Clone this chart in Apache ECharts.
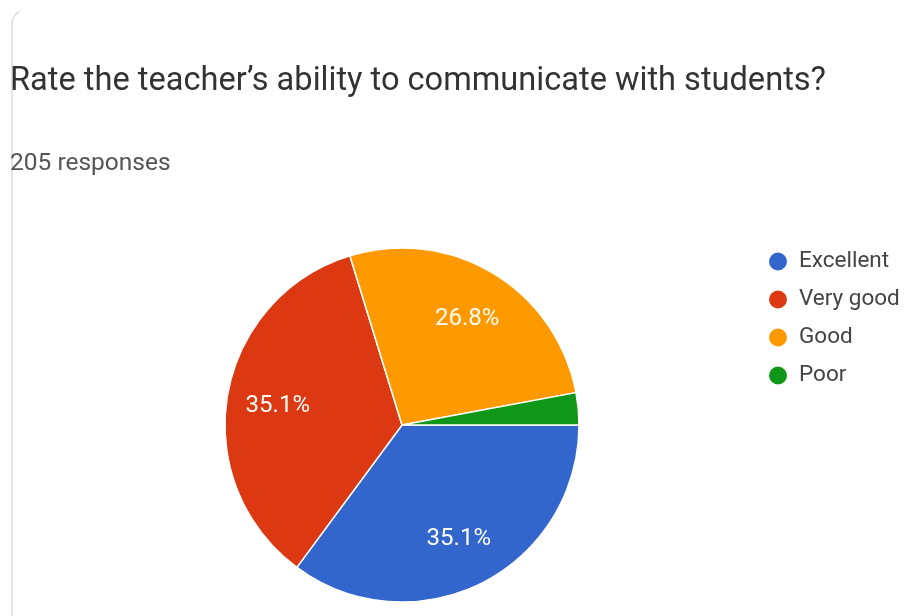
<!DOCTYPE html>
<html>
<head>
<meta charset="utf-8">
<script src="https://cdn.jsdelivr.net/npm/echarts@6/dist/echarts.min.js"></script>
<style>
  html, body { margin: 0; padding: 0; background: #fff; }
  #chart { width: 914px; height: 616px; }
</style>
</head>
<body>
<div id="chart"></div>
<script>
// Survey answers (205 responses)
const categories = ['Excellent', 'Very good', 'Good', 'Poor'];
const counts = [72, 72, 55, 6];
const colors = ['#3366cc', '#dc3912', '#ff9900', '#109618'];

const titleText = 'Rate the teacher\u2019s ability to communicate with students?';
const subText = '205 responses';

const chart = echarts.init(document.getElementById('chart'));

const sliceData = categories.map((name, i) => ({
    name: name,
    value: counts[i],
    itemStyle: { color: colors[i] }
}));

const option = {
    backgroundColor: '#fff',
    animation: false,
    title: {
        text: titleText,
        subtext: subText,
        left: 5,
        top: 60,
        itemGap: 54,
        textStyle: { fontFamily: 'Roboto', fontSize: 32.6, lineHeight: 33, fontWeight: 'normal', color: '#333' },
        subtextStyle: { fontFamily: 'Roboto', fontSize: 24.5, lineHeight: 24, color: '#555' }
    },
    legend: {
        orient: 'vertical',
        left: 762,
        top: 245,
        icon: 'circle',
        itemWidth: 20,
        itemHeight: 20,
        itemGap: 15,
        data: categories,
        textStyle: { fontFamily: 'Roboto', fontSize: 22.5, lineHeight: 22, color: '#444', padding: [0, 0, 0, 6] }
    },
    graphic: [
        {
            type: 'line',
            shape: { x1: 12, y1: 620, x2: 12, y2: 24 },
            style: { stroke: '#dddddd', lineWidth: 1.5 },
            silent: true
        },
        {
            type: 'arc',
            shape: { cx: 26, cy: 24, r: 14, startAngle: Math.PI, endAngle: Math.PI * 1.35 },
            style: { stroke: '#dddddd', lineWidth: 1.5, fill: null },
            silent: true
        }
    ],
    series: [
        {
            name: 'slices',
            type: 'pie',
            center: [402, 425],
            radius: 177,
            startAngle: 0,
            clockwise: true,
            label: { show: false },
            labelLine: { show: false },
            itemStyle: { borderColor: '#fff', borderWidth: 1.5 },
            data: sliceData
        },
        {
            // label layer: transparent ring so the percentages sit at ~0.69 r
            name: 'labels',
            type: 'pie',
            center: [402, 425],
            radius: 246,
            startAngle: 0,
            clockwise: true,
            silent: true,
            legendHoverLink: false,
            itemStyle: { color: 'rgba(0,0,0,0)', borderWidth: 0 },
            label: {
                show: true,
                position: 'inside',
                offset: [0, 2],
                fontFamily: 'Roboto',
                fontSize: 24,
                color: '#fdfdf6',
                formatter: p => p.percent < 5 ? '' : p.percent.toFixed(1) + '%'
            },
            labelLine: { show: false },
            data: categories.map((name, i) => ({ name: name, value: counts[i] }))
        }
    ]
};

chart.setOption(option);
</script>
</body>
</html>
